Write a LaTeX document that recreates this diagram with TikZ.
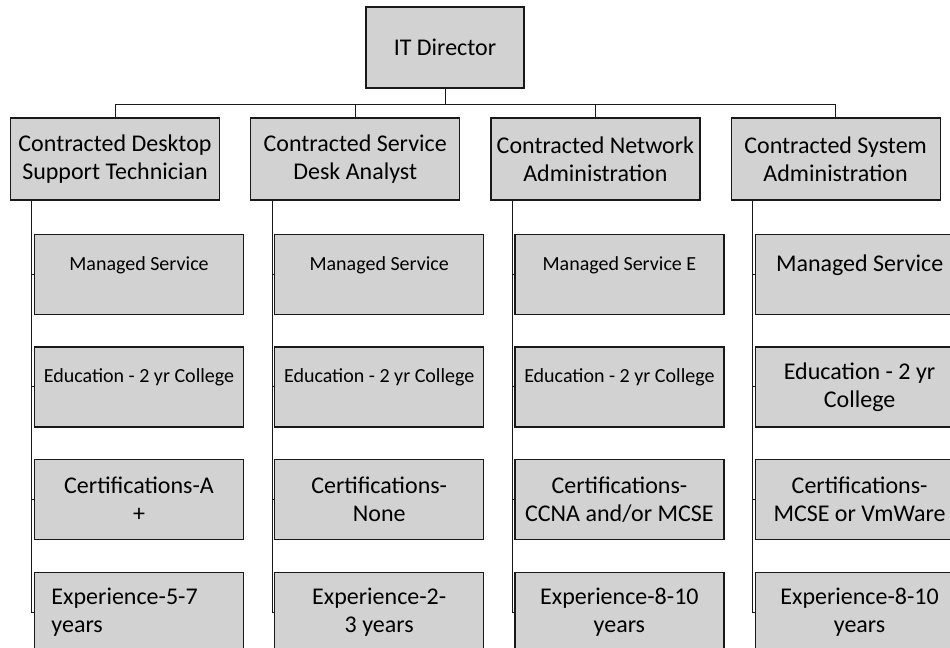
\documentclass[tikz,border=0pt]{standalone}
\usepackage{fontspec}
\setmainfont{Carlito}
\usepackage{tikz}
\usetikzlibrary{positioning}
\definecolor{boxgray}{RGB}{210,210,210}
\definecolor{inkblack}{RGB}{25,25,25}
\tikzset{
  role/.style={draw=inkblack,line width=0.6pt,fill=boxgray,align=center,
    inner sep=2pt,minimum width=104.5pt,minimum height=41pt,
    font=\fontsize{12}{14}\selectfont},
  duty/.style={draw=inkblack,line width=0.6pt,fill=boxgray,align=center,
    inner sep=2pt,minimum width=104.5pt,minimum height=40pt,
    font=\fontsize{12}{14}\selectfont},
  smallduty/.style={duty,font=\fontsize{10}{12}\selectfont},
  toptext/.style={text depth=11pt},
  tie/.style={draw=inkblack,line width=0.5pt}
}

\begin{document}
\begin{tikzpicture}
  \useasboundingbox (0,0) rectangle (475pt,-324pt);
  % top of the chart and the four contracted roles
  \node[role,minimum width=79pt,minimum height=40.5pt] (dir) at (222.5pt,-23.75pt) {IT Director};
  \node[role] (desk) at (57.5pt,-79.5pt) {Contracted Desktop\\Support Technician};
  \node[role,right=15pt of desk] (svc) {Contracted Service\\Desk Analyst};
  \node[role,right=15pt of svc] (net) {Contracted Network\\Administration};
  \node[role,right=15pt of net] (sys) {Contracted System\\Administration};
  % desktop support
  \node[smallduty,toptext,below=16.5pt of desk,xshift=12pt] (desk1) {Managed Service};
  \node[smallduty,toptext,below=15.75pt of desk1] (desk2) {Education - 2 yr College};
  \node[duty,below=15.75pt of desk2] (desk3) {Certifications-A\\+};
  \node[duty,below=15.75pt of desk3,align=left,text width=87.5pt,inner xsep=8.5pt] (desk4) {Experience-5-7\\years};
  % service desk
  \node[smallduty,toptext,below=16.5pt of svc,xshift=12pt] (svc1) {Managed Service};
  \node[smallduty,toptext,below=15.75pt of svc1] (svc2) {Education - 2 yr College};
  \node[duty,below=15.75pt of svc2] (svc3) {Certifications-\\None};
  \node[duty,below=15.75pt of svc3] (svc4) {Experience-2-\\3 years};
  % network
  \node[smallduty,toptext,below=16.5pt of net,xshift=12pt] (net1) {Managed Service E};
  \node[smallduty,toptext,below=15.75pt of net1] (net2) {Education - 2 yr College};
  \node[duty,below=15.75pt of net2] (net3) {Certifications-\\CCNA and/or MCSE};
  \node[duty,below=15.75pt of net3] (net4) {Experience-8-10\\years};
  % systems
  \node[duty,toptext,below=16.5pt of sys,xshift=12pt] (sys1) {Managed Service};
  \node[duty,below=15.75pt of sys1] (sys2) {Education - 2 yr\\College};
  \node[duty,below=15.75pt of sys2] (sys3) {Certifications-\\MCSE or VmWare};
  \node[duty,below=15.75pt of sys3] (sys4) {Experience-8-10\\years};
  % reporting lines
  \draw[tie] (dir.south) -- ++(0,-8pt) coordinate (hub);
  \draw[tie] (hub) -| (desk.north) (hub) -| (svc.north) (hub) -| (net.north) (hub) -| (sys.north);
  \draw[tie] ([xshift=11pt]desk.south west) |- (desk1.west) ([xshift=11pt]desk.south west) |- (desk2.west)
    ([xshift=11pt]desk.south west) |- (desk3.west) ([xshift=11pt]desk.south west) |- (desk4.west);
  \draw[tie] ([xshift=11pt]svc.south west) |- (svc1.west) ([xshift=11pt]svc.south west) |- (svc2.west)
    ([xshift=11pt]svc.south west) |- (svc3.west) ([xshift=11pt]svc.south west) |- (svc4.west);
  \draw[tie] ([xshift=11pt]net.south west) |- (net1.west) ([xshift=11pt]net.south west) |- (net2.west)
    ([xshift=11pt]net.south west) |- (net3.west) ([xshift=11pt]net.south west) |- (net4.west);
  \draw[tie] ([xshift=11pt]sys.south west) |- (sys1.west) ([xshift=11pt]sys.south west) |- (sys2.west)
    ([xshift=11pt]sys.south west) |- (sys3.west) ([xshift=11pt]sys.south west) |- (sys4.west);
\end{tikzpicture}
\end{document}
